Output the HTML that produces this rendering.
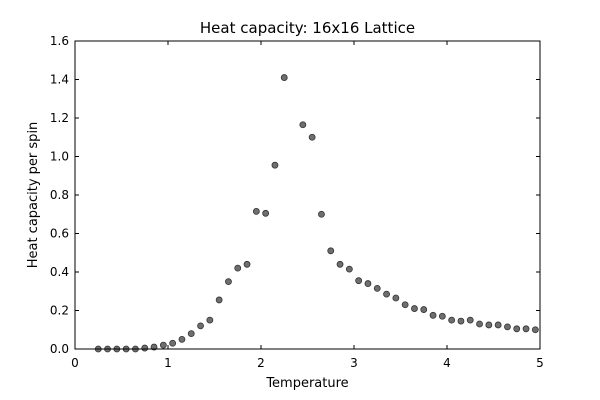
<!DOCTYPE html>
<html><head><meta charset="utf-8"><style>
body{margin:0;background:#fff;}
svg{display:block;font-family:"DejaVu Sans","Liberation Sans",sans-serif;}
</style></head><body>
<svg id="chart" width="600" height="400">
<rect x="0" y="0" width="600" height="400" fill="#fff"/>
<text x="307.5" y="33" font-size="15" text-anchor="middle">Heat capacity: 16x16 Lattice</text>
<text x="307.5" y="387" font-size="13" text-anchor="middle">Temperature</text>
<text transform="translate(37,195) rotate(-90)" font-size="13" text-anchor="middle">Heat capacity per spin</text>
<g id="ticks"></g>
<g id="points"></g>
<rect x="75" y="41" width="465" height="308" fill="none" stroke="#000" stroke-width="1"/>
</svg>
<script>
const temps = [0.25,0.35,0.45,0.55,0.65,0.75,0.85,0.95,1.05,1.15,1.25,1.35,1.45,1.55,1.65,1.75,1.85,1.95,2.05,2.15,2.25,2.35,2.45,2.55,2.65,2.75,2.85,2.95,3.05,3.15,3.25,3.35,3.45,3.55,3.65,3.75,3.85,3.95,4.05,4.15,4.25,4.35,4.45,4.55,4.65,4.75,4.85,4.95];
const heatCap = [0,0,0,0,0,0.005,0.01,0.02,0.03,0.05,0.08,0.12,0.15,0.255,0.35,0.42,0.44,0.715,0.705,0.955,1.41,null,1.165,1.10,0.70,0.51,0.44,0.415,0.355,0.34,0.315,0.285,0.265,0.23,0.21,0.205,0.175,0.17,0.15,0.145,0.15,0.13,0.125,0.125,0.115,0.105,0.105,0.1];
const xTicks = [0,1,2,3,4,5];
const yTicks = [0,0.2,0.4,0.6,0.8,1.0,1.2,1.4,1.6];
const yTickLabels = ["0.0","0.2","0.4","0.6","0.8","1.0","1.2","1.4","1.6"];

const X0=75,X1=540,Y0=349,Y1=41;
const sx=v=>X0+(v-0)/(5-0)*(X1-X0);
const sy=v=>Y0-(v-0)/(1.6-0)*(Y0-Y1);
const NS="http://www.w3.org/2000/svg";
const tg=document.getElementById('ticks'), pg=document.getElementById('points');
function mk(t,a,p){const e=document.createElementNS(NS,t);for(const k in a)e.setAttribute(k,a[k]);p.appendChild(e);return e;}
xTicks.forEach(v=>{
  const x=sx(v);
  mk('line',{x1:x,y1:Y0,x2:x,y2:Y0-4,stroke:'#000'},tg);
  mk('line',{x1:x,y1:Y1,x2:x,y2:Y1+4,stroke:'#000'},tg);
  const t=mk('text',{x:x,y:Y0+18,'font-size':12,'text-anchor':'middle'},tg);
  t.textContent=String(v);
  
  
});
yTicks.forEach((v,i)=>{
  const y=sy(v);
  mk('line',{x1:X0,y1:y,x2:X0+4,y2:y,stroke:'#000'},tg);
  mk('line',{x1:X1,y1:y,x2:X1-4,y2:y,stroke:'#000'},tg);
  const t=mk('text',{x:X0-6,y:y+4,'font-size':12,'text-anchor':'end'},tg);
  t.textContent=yTickLabels[i];
  
  
});
temps.forEach((tv,i)=>{
  const v=heatCap[i]; if(v===null) return;
  const c=mk('circle',{cx:sx(tv),cy:sy(v),r:3,fill:'#6e6e6e',stroke:'#333','stroke-width':0.8},pg);
  
  
});
</script>
</body></html>
